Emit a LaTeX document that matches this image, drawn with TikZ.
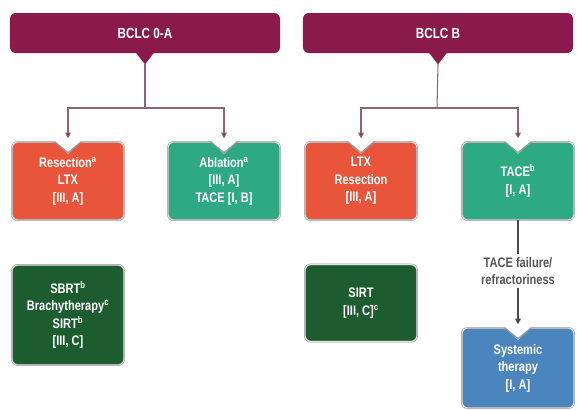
\documentclass[tikz,border=0pt]{standalone}
\usepackage{fontspec}
\setsansfont[FakeStretch=0.8]{Liberation Sans}
\usepackage{tikz}
\usetikzlibrary{positioning, arrows.meta}
\definecolor{bclcM}{HTML}{8A1A4B}
\definecolor{surgR}{HTML}{E8553B}
\definecolor{ablG}{HTML}{2DAA82}
\definecolor{radG}{HTML}{1D5C2E}
\definecolor{sysB}{HTML}{4A85BE}
\definecolor{lineM}{HTML}{8E6476}
\definecolor{edgeC}{HTML}{9A9A9A}
\definecolor{noteG}{HTML}{555555}

\tikzset{
  stage/.style={fill=bclcM, rounded corners=5pt, minimum width=8.1cm,
     minimum height=1.2cm, text=white, font=\sffamily\bfseries\fontsize{12.5}{14}\selectfont},
  tbox/.style={fill=#1, draw=edgeC, double=white!85!#1, double distance=0.7pt,
     line width=0.45pt, rounded corners=5pt, minimum width=3.36cm,
     minimum height=2.34cm, text=white, align=center,
     font=\sffamily\bfseries\fontsize{11.8}{15}\selectfont},
  link/.style={lineM, line width=0.9pt},
  tip/.style={link, -{Triangle[length=5pt, width=5pt, fill=bclcM]}}
}

\begin{document}
\begin{tikzpicture}[x=0.03cm, y=-0.03cm]
  \useasboundingbox (0,0) rectangle (577,409);
  % stage bars
  \node[stage] (bclcA) at (145,33) {BCLC 0-A};
  \node[stage] (bclcB) at (438,33) {BCLC B};
  \foreach \nm in {bclcA, bclcB}{
     \fill[bclcM] ([xshift=-0.3cm,yshift=0.05cm]\nm.south) -- ([yshift=-0.33cm]\nm.south)
        -- ([xshift=0.3cm,yshift=0.05cm]\nm.south) -- cycle;
  }
  % treatment boxes
  \node[tbox=surgR] (resA) at (68,181) {Resection\textsuperscript{a}\\LTX\\{[III, A]}};
  \node[tbox=ablG] (ablA) at (224,181) {Ablation\textsuperscript{a}\\{[III, A]}\\TACE [I, B]};
  \node[tbox=surgR] (ltxB) at (361,181) {LTX\\Resection\\{[III, A]}};
  \node[tbox=ablG] (taceB) at (518,181) {TACE\textsuperscript{b}\\{[I, A]}};
  \node[tbox=radG, minimum height=3cm] (sbrtA) at (68,315)
     {SBRT\textsuperscript{b}\\Brachytherapy\textsuperscript{c}\\SIRT\textsuperscript{b}\\{[III, C]}};
  \node[tbox=radG, minimum height=2.31cm] (sirtB) at (361,303) {SIRT\\{[III, C]}\textsuperscript{c}};
  \node[tbox=sysB, minimum height=2.4cm] (sysB) at (518,368) {Systemic\\therapy\\{[I, A]}};
  % notches in the top edges
  \foreach \nm in {resA, ablA, ltxB, taceB, sysB}{
     \fill[white] ([xshift=-0.44cm,yshift=0.06cm]\nm.north) --
        ([xshift=0.44cm,yshift=0.06cm]\nm.north) -- ([yshift=-0.36cm]\nm.north) -- cycle;
     \draw[edgeC, line width=1.1pt, line join=round]
        ([xshift=-0.4cm]\nm.north) -- ([yshift=-0.33cm]\nm.north) -- ([xshift=0.4cm]\nm.north);
  }
  % branches
  \coordinate (jA) at (145,108);
  \coordinate (jB) at (437,108);
  \draw[link] ([yshift=-0.33cm]bclcA.south) -- (jA);
  \draw[link] ([yshift=-0.33cm]bclcB.south) -- (jB);
  \draw[tip] (jA) -| ([yshift=0.1cm]resA.north);
  \draw[tip] (jA) -| ([yshift=0.1cm]ablA.north);
  \draw[tip] (jB) -| ([yshift=0.1cm]ltxB.north);
  \draw[tip] (jB) -| ([yshift=0.1cm]taceB.north);
  % failure path
  \node[text=noteG, align=center, font=\sffamily\bfseries\fontsize{11.8}{14}\selectfont]
     (fail) at (518,271) {TACE failure/\\refractoriness};
  \draw[black!70, line width=0.9pt] (taceB.south) -- (fail.north);
  \draw[black!70, line width=0.9pt, -{Triangle[length=5pt, width=5pt]}]
     (fail.south) -- ([yshift=0.1cm]sysB.north);
\end{tikzpicture}
\end{document}
